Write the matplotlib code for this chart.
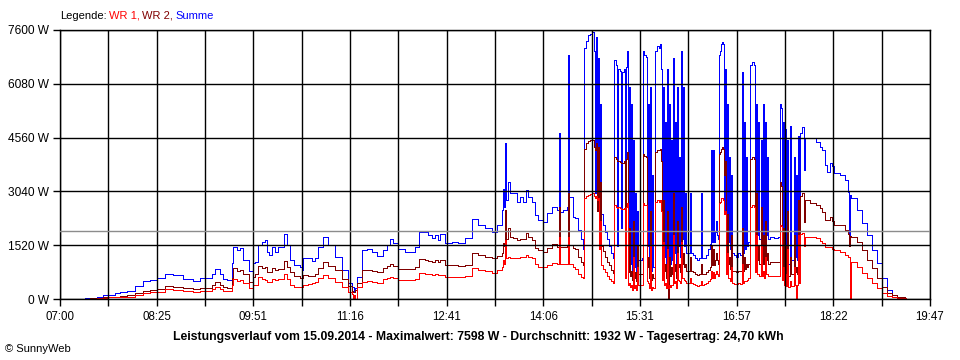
import matplotlib
matplotlib.use("Agg")
import matplotlib.pyplot as plt

# ---------------- data ----------------
# time of day in minutes after midnight
zeit_min = [
    442.0, 446.4, 452.6, 457.9, 462.3, 468.5, 472.9, 479.1, 486.1, 493.2,
    499.3, 505.5, 512.6, 519.6, 528.4, 537.3, 543.4, 550.5, 554.0, 556.6,
    561.1, 563.7, 567.2, 571.6, 572.5, 576.0, 578.7, 581.3, 586.6, 590.1,
    591.9, 594.6, 598.1, 600.7, 602.5, 604.3, 606.9, 609.5, 612.2, 614.8,
    617.5, 620.1, 622.8, 626.3, 631.6, 633.3, 634.2, 638.6, 642.2, 644.8,
    647.5, 651.9, 656.3, 662.4, 668.6, 673.9, 677.4, 678.3, 679.2, 680.1,
    681.8, 686.2, 690.6, 695.1, 699.5, 704.8, 708.3, 710.9, 713.6, 718.0,
    724.1, 730.3, 733.0, 736.5, 741.8, 744.4, 748.0, 750.6, 753.2, 755.0,
    759.4, 765.6, 770.9, 777.0, 783.2, 788.5, 794.7, 800.8, 805.3, 809.7,
    810.5, 811.4, 812.3, 813.2, 815.0, 816.7, 819.4, 822.9, 825.5, 828.2,
    830.8, 832.6, 836.1, 838.8, 841.4, 845.8, 849.3, 853.7, 858.2, 859.9,
    860.8, 863.4, 867.0, 867.9, 868.7, 872.3, 874.0, 876.7, 879.3, 881.1,
    # afternoon with passing clouds
    882.0, 883.7, 885.5, 887.3, 889.0, 890.8, 891.7, 892.6, 893.4, 894.3,
    895.2, 896.1, 897.0, 898.7, 900.5, 902.3, 904.0, 905.8, 907.5, 908.4,
    910.2, 911.1, 912.0, 913.7, 914.6, 915.5, 917.3, 918.1, 919.0, 919.9,
    920.8, 921.7, 922.6, 923.4, 924.3, 925.2, 926.1, 927.0, 927.9, 928.7,
    929.6, 931.4, 933.2, 934.1, 934.9, 936.7, 937.6, 938.5, 939.3, 940.2,
    941.1, 942.0, 942.9, 944.6, 946.4, 948.2, 949.0, 949.9, 950.8, 951.7,
    952.6, 953.4, 954.3, 955.2, 956.1, 957.0, 957.9, 958.7, 959.6, 960.5,
    961.4, 962.3, 963.2, 964.0, 964.9, 965.8, 966.7, 967.6, 968.4, 969.3,
    970.2, 971.1, 972.0, 975.5, 976.4, 978.1, 979.9, 981.7, 983.4, 985.2,
    986.1, 987.8, 989.6, 991.4, 993.1, 994.0, 994.9, 995.8, 996.7, 997.5,
    998.4, 999.3, 1000.2, 1001.1, 1002.0, 1002.8, 1003.7, 1004.6, 1005.5, 1006.4,
    1007.2, 1008.1, 1009.0, 1009.9, 1010.8, 1011.7, 1012.5, 1014.3, 1016.1, 1017.8,
    1019.6, 1021.4, 1022.2, 1023.1, 1024.0, 1024.9, 1025.8, 1026.7, 1028.4, 1030.2,
    1031.9, 1032.8, 1033.7, 1034.6, 1035.5, 1036.4, 1038.1, 1039.0, 1039.9, 1040.8,
    1041.6, 1042.5, 1043.4, 1044.3, 1046.1, 1049.6, 1053.1, 1054.9, 1055.8, 1056.7,
    1057.5, 1058.4, 1059.3, 1060.2, 1061.1, 1062.0, 1063.7, 1064.6, 1067.2, 1068.1,
    1069.0, 1069.9, 1070.8, 1071.7, 1072.5,
    # evening
    1074.3, 1076.1, 1077.0, 1081.4, 1086.7, 1090.2, 1092.0, 1094.6, 1096.4, 1099.1,
    1100.8, 1102.6, 1107.9, 1112.3, 1114.9, 1115.8, 1116.7, 1117.6, 1122.9, 1127.3,
    1131.7, 1136.1, 1140.5, 1144.9, 1149.3, 1153.7, 1158.1, 1165.1, 1166.0,
]

summe_w = [
    15, 30, 65, 100, 113, 160, 200, 235, 380, 508,
    550, 585, 706, 678, 565, 517, 585, 585, 700, 839,
    700, 565, 537, 1008, 1477, 1384, 1432, 1102, 800, 1008,
    1055, 1525, 1619, 1667, 1336, 1243, 1477, 1336, 1477, 1477,
    1836, 1525, 1102, 960, 913, 819, 1150, 1150, 1083, 1150,
    1477, 1760, 1525, 1196, 819, 443, 348, 330, 207, 300,
    631, 1384, 1403, 1336, 1215, 1384, 1525, 1686, 1573, 1403,
    1336, 1336, 1477, 1883, 1883, 1808, 1714, 1808, 1667, 1836,
    1591, 1619, 1591, 1714, 2251, 2091, 2015, 1902, 2091, 2514,
    3099, 2600, 4398, 2797, 3314, 2986, 2986, 2749, 2890, 2749,
    3079, 2890, 2749, 2373, 2232, 2184, 2421, 2608, 2514, 4700,
    2467, 2514, 2600, 6893, 2890, 2325, 2300, 1950, 1700, 1400,
    7100, 7300, 7450, 7500, 7550, 7000, 3000, 7400, 2500, 6800,
    2200, 5500, 2400, 2100, 1900, 1700, 1500, 1300, 1150, 6750,
    6600, 1500, 6500, 6450, 2000, 6400, 6500, 1300, 6550, 7000,
    1200, 6000, 1000, 5500, 800, 4500, 900, 3000, 700, 2500,
    1100, 1100, 1150, 7000, 6900, 6850, 1500, 5500, 900, 6000,
    800, 3500, 900, 7000, 7150, 7100, 7200, 6500, 1500, 6000,
    1200, 5000, 900, 6500, 900, 5500, 1000, 4500, 1100, 6800,
    1300, 5000, 900, 6000, 1500, 4000, 1200, 7000, 1700, 6000,
    1500, 3000, 1300, 3000, 1300, 1250, 1150, 1100, 1150, 3000,
    1150, 1150, 1250, 1400, 1550, 4200, 1600, 4200, 1600, 1900,
    2200, 1800, 1700, 6900, 7000, 7200, 7250, 7200, 2500, 6500,
    1800, 5500, 1600, 4000, 1400, 3500, 1300, 1250, 1200, 1300,
    1250, 6400, 1300, 5000, 1400, 4000, 1500, 1600, 6600, 6700,
    6600, 2000, 5500, 1800, 5000, 1700, 4500, 1700, 5500, 1600,
    5000, 1800, 4000, 1700, 1750, 1720, 1750, 5500, 5400, 1500,
    5000, 1200, 4800, 1100, 4500, 1000, 4900, 1100, 4000, 1200,
    3500, 1100, 4600, 1200, 4700,
    4868, 3644, 4540, 4540, 4444, 4300, 4209, 3786, 3597, 3851,
    3750, 3551, 3503, 3362, 3031, 1808, 2950, 2845, 2514, 2138,
    1808, 1384, 1008, 585, 254, 113, 65, 20, 15,
]

wr2_w = [
    10, 20, 40, 50, 60, 70, 85, 100, 170, 230,
    260, 283, 367, 340, 300, 274, 300, 320, 400, 489,
    400, 330, 320, 600, 867, 800, 830, 706, 489, 620,
    700, 932, 867, 900, 772, 760, 880, 820, 850, 850,
    1083, 900, 772, 640, 585, 585, 678, 660, 650, 700,
    880, 1036, 930, 819, 560, 380, 220, 210, 207, 250,
    443, 819, 819, 800, 772, 880, 940, 980, 920, 847,
    847, 847, 900, 1121, 1100, 1083, 1050, 1100, 1040, 1100,
    960, 950, 932, 960, 1309, 1243, 1200, 1150, 1220, 1290,
    1573, 1500, 2514, 1700, 1997, 1760, 1720, 1667, 1700, 1700,
    1855, 1760, 1667, 1450, 1384, 1336, 1450, 1554, 1477, 2608,
    1477, 1477, 1500, 3000, 1525, 1450, 1400, 1200, 1050, 950,
    4250, 4400, 4450, 4480, 4500, 4300, 4200, 4400, 2500, 4300,
    1800, 3300, 1500, 1350, 1200, 1050, 950, 820, 725, 4000,
    3950, 3900, 3900, 3880, 3850, 3850, 3900, 1500, 3950, 4150,
    750, 2000, 650, 800, 550, 2200, 600, 750, 500, 1500,
    700, 700, 720, 4100, 4050, 4000, 900, 1200, 600, 2500,
    550, 700, 600, 4150, 4200, 4200, 4250, 3900, 950, 2800,
    800, 1000, 600, 2500, 0, 1200, 650, 900, 700, 3000,
    800, 1000, 600, 2200, 900, 1000, 750, 2600, 1000, 1300,
    900, 1000, 800, 1200, 800, 750, 700, 680, 700, 1000,
    700, 720, 760, 820, 900, 1500, 950, 1400, 950, 1100,
    1300, 1100, 1000, 4100, 4150, 4250, 4300, 4250, 3500, 3900,
    1100, 2400, 1000, 1200, 850, 1800, 800, 780, 750, 800,
    780, 2000, 800, 1200, 850, 1000, 900, 1000, 3950, 4000,
    3950, 1200, 3000, 1100, 1500, 1000, 2600, 1000, 1800, 1000,
    2200, 1100, 1300, 1000, 1050, 1050, 1050, 3300, 3200, 900,
    2000, 750, 1500, 700, 2500, 650, 1200, 700, 1800, 750,
    900, 700, 2800, 750, 2900,
    2986, 2184, 2797, 2703, 2650, 2562, 2450, 2232, 2232, 2308,
    2200, 2091, 2091, 1950, 1836, 1500, 1780, 1760, 1619, 1384,
    1102, 867, 585, 348, 179, 113, 48, 20, 15,
]

wr1_w = [
    5, 10, 25, 35, 45, 55, 60, 70, 120, 170,
    190, 207, 274, 260, 230, 207, 225, 235, 290, 348,
    280, 226, 220, 400, 556, 520, 540, 461, 302, 400,
    395, 631, 560, 537, 480, 470, 570, 540, 560, 570,
    706, 560, 395, 350, 330, 330, 395, 420, 443, 470,
    580, 678, 600, 489, 330, 200, 150, 0, 113, 0,
    348, 489, 500, 480, 461, 560, 600, 631, 600, 537,
    537, 537, 570, 725, 706, 706, 680, 700, 670, 690,
    612, 620, 612, 640, 885, 819, 780, 744, 820, 913,
    1100, 1000, 1667, 1150, 1196, 1150, 1150, 1150, 1180, 1180,
    1243, 1200, 1150, 1000, 913, 913, 960, 1008, 980, 1760,
    980, 980, 1000, 1760, 1000, 913, 850, 700, 620, 580,
    2850, 2900, 2950, 2980, 3000, 2900, 2850, 2900, 2800, 2850,
    1400, 2200, 950, 850, 750, 650, 570, 500, 443, 2650,
    2600, 2580, 2600, 2560, 2550, 2550, 2560, 600, 2600, 2700,
    400, 450, 350, 400, 250, 1200, 300, 400, 250, 900,
    400, 400, 400, 2700, 2650, 2650, 500, 450, 300, 1500,
    250, 350, 300, 2750, 2800, 2750, 2800, 2500, 550, 1600,
    400, 450, 300, 1400, 300, 400, 350, 400, 400, 1800,
    450, 500, 300, 1300, 550, 500, 450, 1600, 600, 600,
    550, 500, 450, 600, 450, 430, 400, 380, 400, 500,
    400, 420, 450, 500, 560, 800, 600, 750, 600, 700,
    800, 700, 650, 2700, 2750, 2850, 2850, 2800, 2400, 2500,
    700, 1300, 600, 600, 500, 900, 450, 430, 420, 450,
    430, 1000, 450, 500, 500, 500, 550, 600, 2600, 2650,
    2600, 750, 1800, 700, 700, 650, 1500, 650, 800, 600,
    1200, 700, 700, 650, 650, 650, 650, 2100, 2050, 550,
    900, 400, 700, 380, 1400, 350, 500, 380, 900, 400,
    0, 400, 1800, 450, 1850,
    1855, 1500, 1760, 1760, 1714, 1650, 1573, 1477, 1470, 1480,
    1420, 1384, 1336, 1250, 1196, 1196, 0, 1055, 913, 725,
    585, 443, 302, 179, 85, 60, 30, 20, 15,
]

x_labels = ["07:00", "08:25", "09:51", "11:16", "12:41",
            "14:06", "15:31", "16:57", "18:22", "19:47"]
x_start, x_end = 420, 1187
y_ticks = [0, 1520, 3040, 4560, 6080, 7600]
durchschnitt_w = 1932
caption = ("Leistungsverlauf vom 15.09.2014 - Maximalwert: 7598 W - "
           "Durchschnitt: 1932 W - Tagesertrag: 24,70 kWh")

# ---------------- figure ----------------
plt.rcParams['font.family'] = ['Liberation Sans', 'DejaVu Sans']
fig = plt.figure(figsize=(9.6, 3.6), dpi=100)
ax = fig.add_axes([60 / 960, 1 - 299 / 360, 870 / 960, 269 / 360])

line_kw = dict(lw=0.55, drawstyle='steps-post', antialiased=False)
ax.plot(zeit_min, summe_w, color='#0000ff', zorder=1.0, **line_kw)
ax.plot(zeit_min, wr2_w, color='#800000', zorder=1.1, **line_kw)
ax.plot(zeit_min, wr1_w, color='#ff0000', zorder=1.2, **line_kw)
ax.axhline(durchschnitt_w, color='#8c8c8c', lw=1.0, zorder=3)

ax.set_xlim(x_start, x_end)
ax.set_ylim(0, 7600)

n = len(x_labels) - 1
major = [x_start + i * (x_end - x_start) / n for i in range(n + 1)]
minor = [x_start + (i + 0.5) * (x_end - x_start) / n for i in range(n)]
ax.set_xticks(major)
ax.set_xticklabels(x_labels)
ax.set_xticks(minor, minor=True)
ax.set_yticks(y_ticks)
ax.set_yticklabels([f"{v} W" for v in y_ticks])

ax.set_axisbelow(False)
ax.grid(True, which='both', color='black', lw=1.0)
ax.tick_params(which='both', direction='out', length=5, width=1, color='black',
               labelcolor='black')
ax.tick_params(axis='x', pad=4, labelsize=8.3)
ax.tick_params(axis='y', pad=3, labelsize=8.6)
for s in ax.spines.values():
    s.set_color('black')
    s.set_linewidth(1.0)

fig.text(478 / 960, 1 - 337 / 360, caption, ha='center', va='center',
         fontsize=8.8, fontweight='bold')
fig.text(5 / 960, 1 - 349 / 360, "\u00a9 SunnyWeb", ha='left', va='center', fontsize=8)

# coloured legend line
legend_parts = [("Legende:", 'black'), ("WR 1,", '#ff0000'),
                ("WR 2,", '#800000'), ("Summe", '#0000ff')]
renderer = fig.canvas.get_renderer()
xpos = 60 / 960
for txt, col in legend_parts:
    t = fig.text(xpos, 1 - 16 / 360, txt, ha='left', va='center', fontsize=8, color=col)
    bb = t.get_window_extent(renderer=renderer)
    xpos += (bb.width + 2.5) / 960

fig.savefig("out.png", dpi=100)
